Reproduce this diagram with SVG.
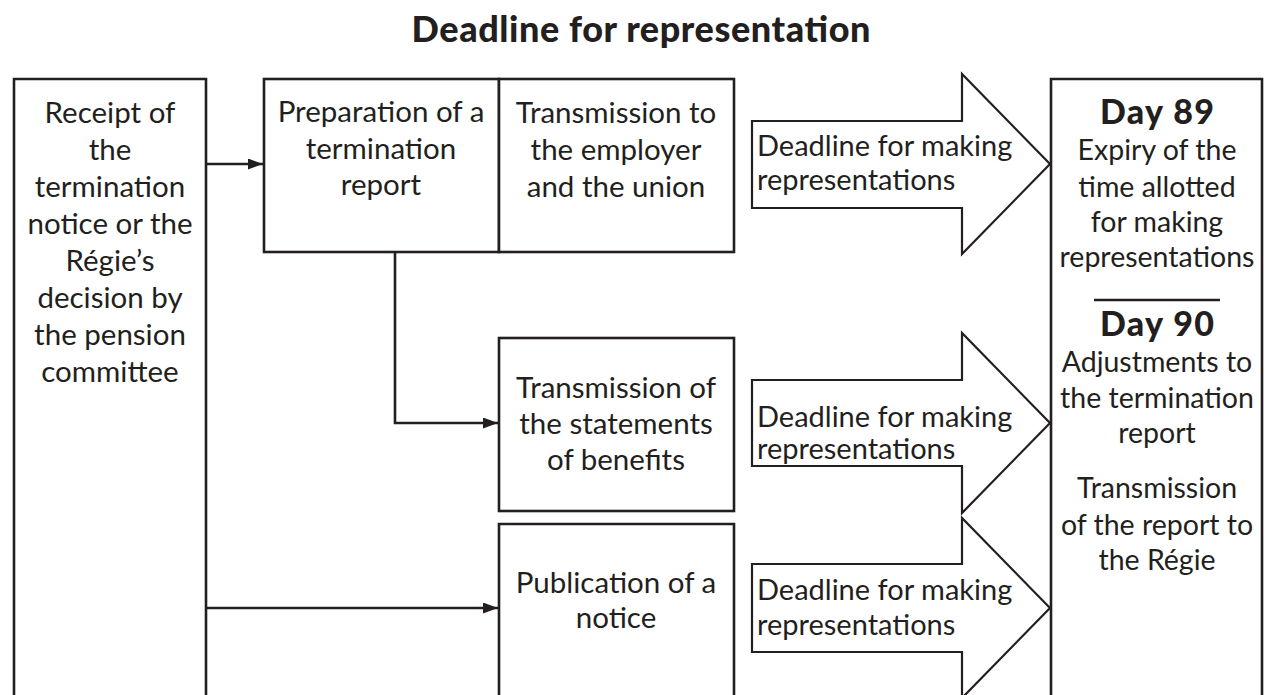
<svg xmlns="http://www.w3.org/2000/svg" width="1267" height="695" viewBox="0 0 1267 695">
<defs>
<style>
.box{fill:#fff;stroke:#231f20;stroke-width:2.6}
.blk{fill:#fff;stroke:#231f20;stroke-width:2.2;stroke-linejoin:miter}
.ln{fill:none;stroke:#231f20;stroke-width:2.6}
text{font-family:Lato,"Noto Sans","Liberation Sans",sans-serif;fill:#231f20}
.t{font-size:29.5px;text-anchor:middle}
.r{font-size:28.5px;text-anchor:middle}
.a{font-size:29px;text-anchor:start}
.b{font-weight:900;font-size:34px;text-anchor:middle}
.title{font-weight:900;font-size:36px;text-anchor:middle}
</style>
<marker id="ah" markerWidth="15" markerHeight="11" refX="15" refY="5.5" orient="auto" markerUnits="userSpaceOnUse">
<path d="M0,0 L15,5.5 L0,11 Z" fill="#231f20"/>
</marker>
</defs>
<rect width="1267" height="695" fill="#fff"/>
<text class="title" x="641" y="42" textLength="459">Deadline for representation</text>

<g id="connectors">
<line class="ln" x1="206" y1="164" x2="263" y2="164" marker-end="url(#ah)"/>
<polyline class="ln" points="395,252 395,423 498,423" marker-end="url(#ah)"/>
<line class="ln" x1="206" y1="608" x2="498" y2="608" marker-end="url(#ah)"/>
</g>

<g id="receipt">
<path class="box" d="M14,700 V79 H206 V700"/>
<text class="t" x="110" y="123">Receipt of</text>
<text class="t" x="110" y="160">the</text>
<text class="t" x="110" y="197">termination</text>
<text class="t" x="110" y="234">notice or the</text>
<text class="t" x="110" y="271">Régie’s</text>
<text class="t" x="110" y="308">decision by</text>
<text class="t" x="110" y="345">the pension</text>
<text class="t" x="110" y="382">committee</text>
</g>

<g id="preparation">
<rect class="box" x="264" y="79" width="235" height="173"/>
<text class="t" x="381" y="122">Preparation of a</text>
<text class="t" x="381" y="159">termination</text>
<text class="t" x="381" y="195">report</text>
</g>

<g id="transmission-employer">
<rect class="box" x="499" y="79" width="235" height="173"/>
<text class="t" x="616" y="123">Transmission to</text>
<text class="t" x="616" y="160">the employer</text>
<text class="t" x="616" y="197">and the union</text>
</g>

<g id="transmission-benefits">
<rect class="box" x="499" y="338" width="235" height="173"/>
<text class="t" x="616" y="398">Transmission of</text>
<text class="t" x="616" y="434">the statements</text>
<text class="t" x="616" y="470">of benefits</text>
</g>

<g id="publication">
<path class="box" d="M499,700 V524 H734 V700"/>
<text class="t" x="616" y="593">Publication of a</text>
<text class="t" x="616" y="628">notice</text>
</g>

<g id="deadline-1">
<path class="blk" d="M752,121 H962 V74 L1050,164 L962,254 V208 H752 Z"/>
<text class="a" x="757" y="156">Deadline for making</text>
<text class="a" x="757" y="190">representations</text>
</g>

<g id="deadline-2">
<path class="blk" d="M752,380 H962 V333 L1050,423 L962,513 V466 H752 Z"/>
<text class="a" x="757" y="427">Deadline for making</text>
<text class="a" x="757" y="459">representations</text>
</g>

<g id="deadline-3">
<path class="blk" d="M752,564 H962 V518 L1050,608 L962,698 V652 H752 Z"/>
<text class="a" x="757" y="600">Deadline for making</text>
<text class="a" x="757" y="635">representations</text>
</g>

<g id="days">
<path class="box" d="M1051,700 V79 H1262 V700"/>
<text class="b" x="1157" y="124" textLength="114">Day 89</text>
<text class="r" x="1157" y="160">Expiry of the</text>
<text class="r" x="1157" y="197">time allotted</text>
<text class="r" x="1157" y="232">for making</text>
<text class="r" x="1157" y="267">representations</text>
<line class="ln" x1="1094" y1="300" x2="1220" y2="300"/>
<text class="b" x="1157" y="336" textLength="114">Day 90</text>
<text class="r" x="1157" y="372">Adjustments to</text>
<text class="r" x="1157" y="408">the termination</text>
<text class="r" x="1157" y="443">report</text>
<text class="r" x="1157" y="498">Transmission</text>
<text class="r" x="1157" y="535">of the report to</text>
<text class="r" x="1157" y="570">the Régie</text>
</g>
</svg>
